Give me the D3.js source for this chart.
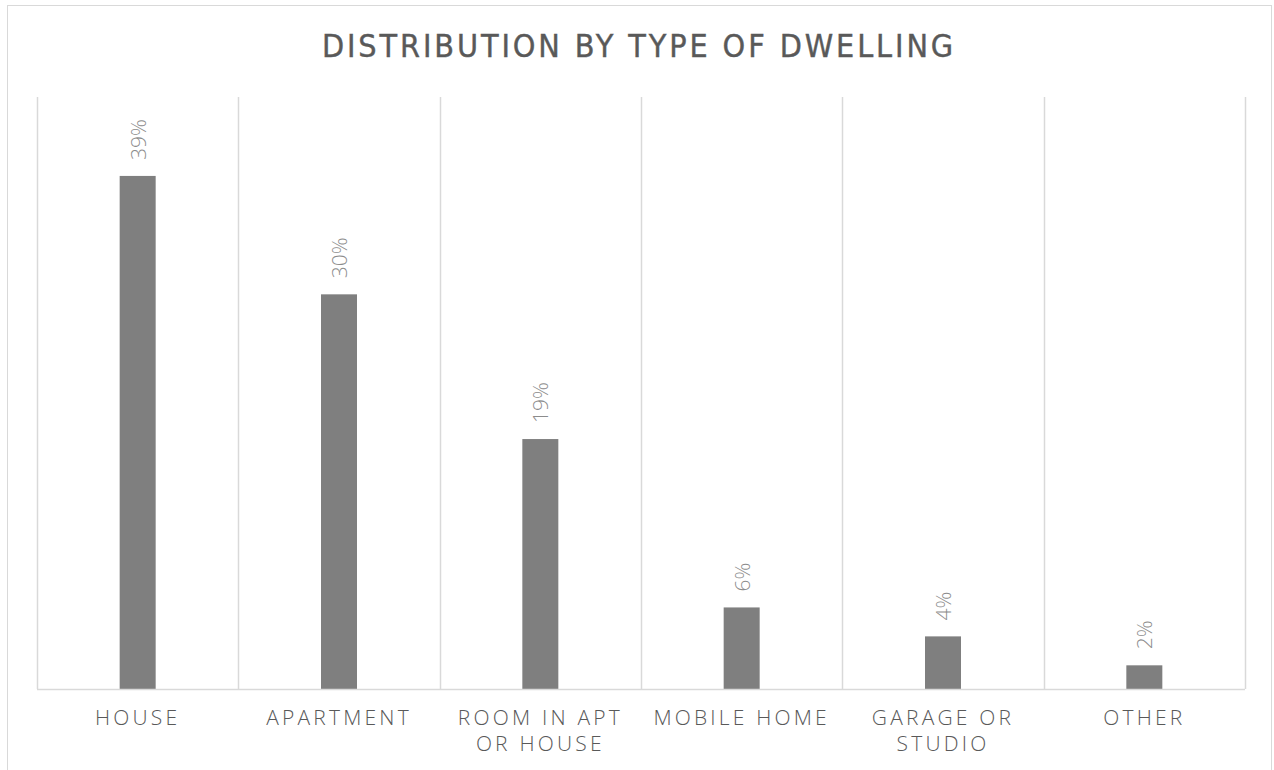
<!DOCTYPE html>
<html><head><meta charset="utf-8">
<script src="https://cdn.jsdelivr.net/npm/d3@7"></script>
<style>
body{margin:0;background:#fff;}
svg{display:block;}
</style></head>
<body>
<svg id="chart" width="1274" height="770"></svg>
<script>
const title = "DISTRIBUTION BY TYPE OF DWELLING";
const categories = [["HOUSE"],["APARTMENT"],["ROOM IN APT","OR HOUSE"],["MOBILE HOME"],["GARAGE OR","STUDIO"],["OTHER"]];
const values = [39, 30, 19, 6.2, 4.0, 1.8];
const labels = ["39%","30%","19%","6%","4%","2%"];

const svg = d3.select("#chart");
const W = 1274, H = 770;
const m = {left:37, right:1245, top:97, bottom:689};

svg.append("rect").attr("x",7.5).attr("y",5.5).attr("width",1264).attr("height",800)
  .attr("fill","#fff").attr("stroke","#d9d9d9").attr("stroke-width",1);

const x = d3.scaleBand().domain(d3.range(categories.length)).range([m.left,m.right]).paddingInner(0).paddingOuter(0);
const y = d3.scaleLinear().domain([0,45]).range([m.bottom,m.top]);

// vertical gridlines at category boundaries
const bounds = d3.range(categories.length+1).map(i => m.left + i*x.bandwidth());
svg.append("g").selectAll("line").data(bounds).join("line")
  .attr("x1",d=>Math.round(d)+0.5).attr("x2",d=>Math.round(d)+0.5)
  .attr("y1",m.top).attr("y2",m.bottom)
  .attr("stroke","#d9d9d9").attr("stroke-width",1.5);

const barW = 36;
svg.append("g").selectAll("rect").data(values).join("rect")
  .attr("x",(d,i)=>x(i)+x.bandwidth()/2-barW/2)
  .attr("y",d=>y(d)).attr("width",barW).attr("height",d=>y(0)-y(d))
  .attr("fill","#7f7f7f");

// baseline
svg.append("line").attr("x1",m.left).attr("x2",m.right).attr("y1",m.bottom+0.5).attr("y2",m.bottom+0.5)
  .attr("stroke","#d9d9d9").attr("stroke-width",1.5);

// data labels
svg.append("g").selectAll("text").data(values).join("text")
  .attr("transform",(d,i)=>`translate(${x(i)+x.bandwidth()/2+8},${y(d)-16}) rotate(-90)`)
  .attr("text-anchor","start")
  .attr("font-family","'Open Sans', sans-serif").attr("font-weight",300)
  .attr("font-size",21).attr("fill","#8c8c8c")
  .text((d,i)=>labels[i]);

// category labels
const xl = svg.append("g").selectAll("text").data(categories).join("text")
  .attr("x",(d,i)=>x(i)+x.bandwidth()/2).attr("y",725)
  .attr("text-anchor","middle")
  .attr("font-family","'Open Sans', sans-serif").attr("font-weight",300)
  .attr("font-size",21).attr("letter-spacing","3.2px").attr("fill","#595959");
xl.each(function(d,i){
  const t = d3.select(this);
  d.forEach((line,j)=>{
    t.append("tspan").attr("x",x(i)+x.bandwidth()/2).attr("dy", j===0?0:26).text(line);
  });
});

svg.append("text").attr("x",639).attr("y",57).attr("text-anchor","middle")
  .attr("font-family","'DejaVu Sans Condensed', 'DejaVu Sans', sans-serif").attr("font-weight",400)
  .attr("font-size",32).attr("letter-spacing","2.9px").attr("fill","#595959")
  .attr("stroke","#595959").attr("stroke-width",0.4)
  .text(title);
</script>
</body></html>
